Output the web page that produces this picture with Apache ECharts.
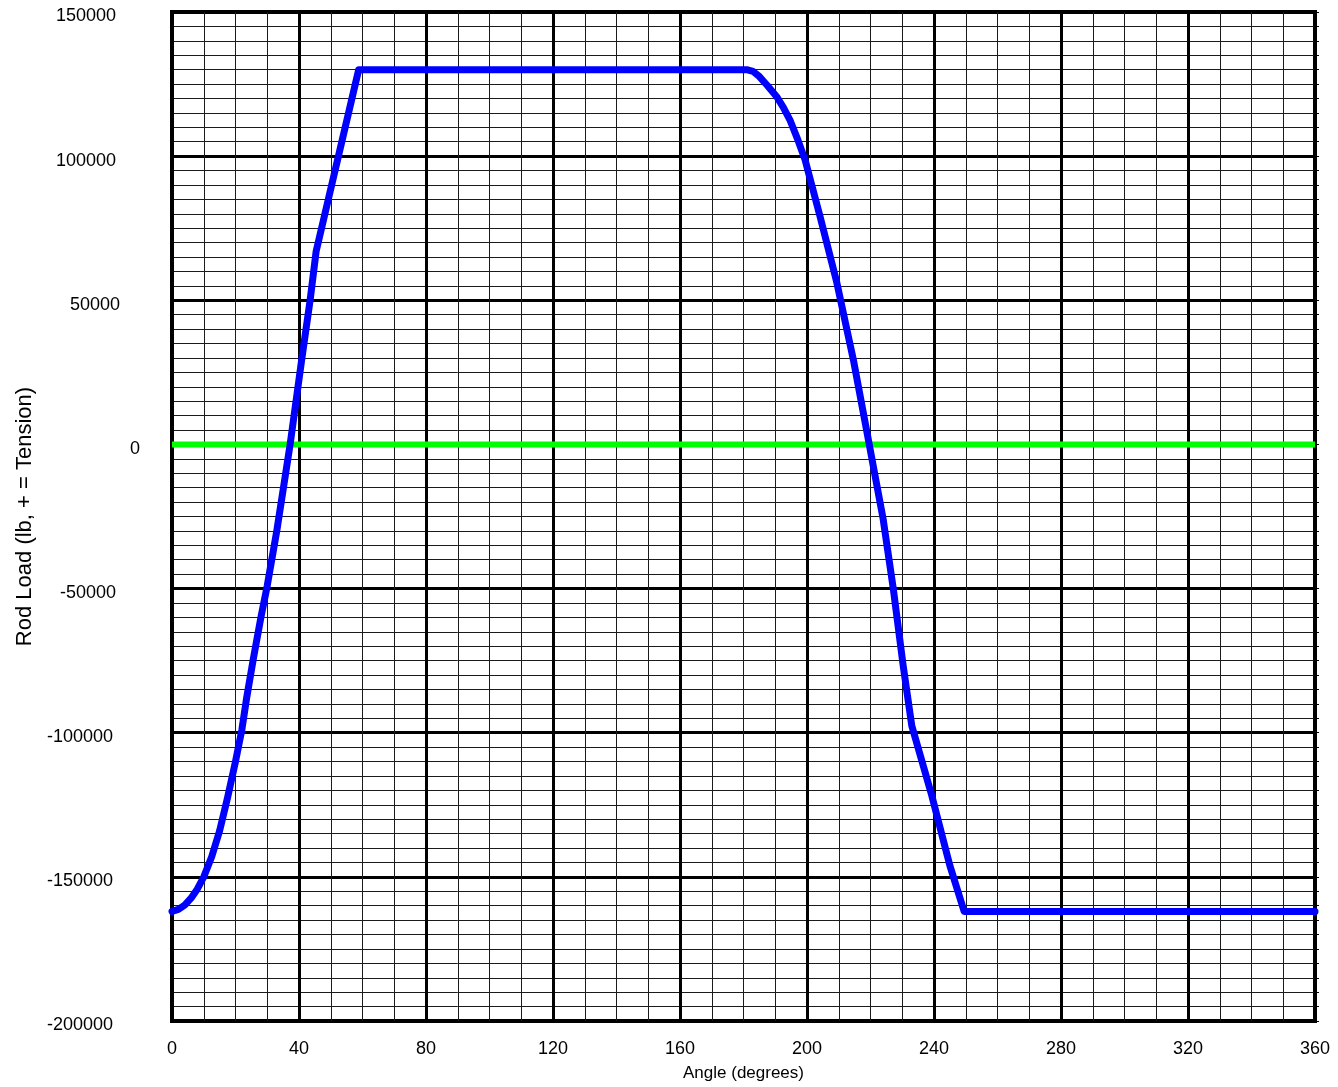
<!DOCTYPE html>
<html>
<head>
<meta charset="utf-8">
<script src="https://cdn.jsdelivr.net/npm/echarts@6/dist/echarts.min.js"></script>
<style>
  html, body { margin: 0; padding: 0; background: #fff; }
  #chart { width: 1338px; height: 1087px; }
</style>
</head>
<body>
<div id="chart"></div>
<script>
// crank angle (deg) and rod load (lb)
const angleDeg = [0, 2, 4, 6, 8, 10, 12.5, 15, 17.5, 20, 22, 23.5, 25.6, 28, 30, 33, 37.2, 40.8, 43.5, 45.4, 58.8,
  181, 183, 185, 187.5, 190.4, 192.5, 194.6, 197, 199.4, 204.1, 209.4, 214.6, 219.6, 224, 227.2, 230.3, 233,
  239.3, 245, 249.5, 360];
const rodLoad = [-162000, -161300, -159800, -157400, -154200, -150000, -143000, -134000, -122500, -110000, -99000, -88000, -74500, -60000, -49000, -30000, 0, 29000, 50000, 67000, 130000,
  130000, 129400, 127600, 124500, 120700, 117000, 112600, 106000, 98700, 79100, 56100, 29400, 0, -26000, -50200, -76800, -97600,
  -121800, -146100, -162000, -162000];

const zeroAngle = [0, 360];
const zeroLoad = [0, 0];

const xTicks = { min: 0, max: 360, interval: 40 };
const yTicks = { min: -200000, max: 150000, interval: 50000 };

const chart = echarts.init(document.getElementById('chart'));

const textFont = 'Liberation Sans, Arial, sans-serif';

// the y labels in the original sit a few px below their lines and are not evenly aligned
function yLabel(value) {
  if (value === 0) return '{z|0}';
  if (value === 50000) return '{f|50000}';
  if (value <= -100000) return '{w|' + value + '}';
  return '{n|' + value + '}';
}

const labelBase = { color: '#000', fontSize: 18, fontFamily: textFont };

chart.setOption({
  animation: false,
  backgroundColor: '#fff',
  grid: {
    left: 172, right: 23, top: 12, bottom: 65,
    show: true, borderColor: '#000', borderWidth: 4,
  },
  xAxis: {
    type: 'value',
    min: xTicks.min,
    max: xTicks.max,
    interval: xTicks.interval,
    name: 'Angle (degrees)',
    nameLocation: 'middle',
    nameGap: 44,
    nameTextStyle: { color: '#000', fontSize: 17, fontFamily: textFont },
    axisLine: { lineStyle: { color: '#000', width: 4 } },
    axisTick: { show: true, inside: false, length: 4, lineStyle: { color: '#000', width: 1 } },
    minorTick: { show: true, splitNumber: 4, length: 4, lineStyle: { color: '#000', width: 1 } },
    axisLabel: { color: '#000', fontSize: 18, fontFamily: textFont, margin: 19 },
    splitLine: { show: true, lineStyle: { color: '#000', width: 3 } },
    minorSplitLine: { show: true, lineStyle: { color: '#1a1a1a', width: 1 } },
  },
  yAxis: [
    {
      type: 'value',
      min: yTicks.min,
      max: yTicks.max,
      interval: yTicks.interval,
      name: 'Rod Load (lb, + = Tension)',
      nameLocation: 'middle',
      nameGap: 136,
      nameTextStyle: { color: '#000', fontSize: 22, fontFamily: textFont },
      axisLine: { show: true, lineStyle: { color: '#000', width: 4 } },
      axisTick: { show: false },
      axisLabel: {
        margin: 32,
        formatter: yLabel,
        rich: {
          n: { ...labelBase, padding: [9, 24, 0, 0] },
          f: { ...labelBase, padding: [9, 20, 0, 0] },
          z: { ...labelBase, padding: [9, 0, 0, 0] },
          w: { ...labelBase, padding: [9, 27, 0, 0] },
        },
      },
      splitLine: { show: true, lineStyle: { color: '#000', width: 3 } },
      minorTick: { show: false, splitNumber: 10 },
      minorSplitLine: { show: true, lineStyle: { color: '#1a1a1a', width: 1 } },
    },
    {
      type: 'value',
      position: 'right',
      min: yTicks.min,
      max: yTicks.max,
      interval: yTicks.interval,
      axisLine: { show: false },
      axisTick: { show: true, length: 4, lineStyle: { color: '#000', width: 1 } },
      minorTick: { show: true, splitNumber: 10, length: 4, lineStyle: { color: '#000', width: 1 } },
      axisLabel: { show: false },
      splitLine: { show: false },
    },
  ],
  series: [
    {
      name: 'zero',
      type: 'line',
      data: zeroAngle.map((a, i) => [a, zeroLoad[i]]),
      showSymbol: false,
      lineStyle: { color: '#00ff00', width: 6 },
    },
    {
      name: 'rod load',
      type: 'line',
      data: angleDeg.map((a, i) => [a, rodLoad[i]]),
      showSymbol: false,
      smooth: false,
      lineStyle: { color: '#0000ff', width: 7, join: 'round', cap: 'round' },
    },
  ],
});
</script>
</body>
</html>
